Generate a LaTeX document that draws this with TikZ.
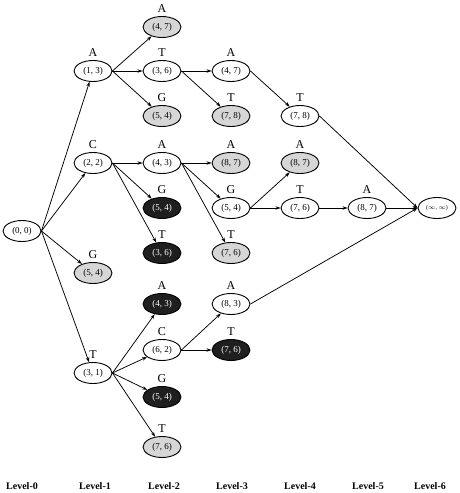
\documentclass[tikz,border=0pt]{standalone}
\usepackage{fontspec}
\setmainfont{Liberation Serif}
\usepackage{tikz}
\usetikzlibrary{arrows.meta, shapes.geometric}

\begin{document}
\begin{tikzpicture}[
	x=1pt, y=-1pt,
	state/.style={ellipse, draw, line width=0.9pt, minimum width=38pt, minimum height=21pt, inner sep=0pt, font=\fontsize{9}{9}\selectfont},
	grey state/.style={state, fill=black!16},
	dead state/.style={state, fill=black!88, text=white},
	sym label/.style={font=\fontsize{12}{12}\selectfont, inner sep=0pt, label distance=3.5pt},
	level label/.style={font=\fontsize{10}{10}\selectfont\bfseries},
	edge/.style={-{Stealth[length=5pt, width=3.4pt]}, line width=0.75pt, black},
	every label/.style={sym label},
	]
	
	\useasboundingbox (0,0) rectangle (459,493);
	
	% Level-0
	\node[state] (root) at (22,231) {(0, 0)};
	
	% Level-1
	\node[state, label=above:A] (a13) at (93,71) {(1, 3)};
	\node[state, label=above:C] (c22) at (93,163) {(2, 2)};
	\node[grey state, label=above:G] (g54) at (93,273) {(5, 4)};
	\node[state, label=above:T] (t31) at (93,373) {(3, 1)};
	
	% Level-2
	\node[grey state, label=above:A] (aa47) at (162,27) {(4, 7)};
	\node[state, label=above:T] (at36) at (162,71) {(3, 6)};
	\node[grey state, label=above:G] (ag54) at (162,116) {(5, 4)};
	\node[state, label=above:A] (ca43) at (162,163) {(4, 3)};
	\node[dead state, label=above:G] (cg54) at (162,208) {(5, 4)};
	\node[dead state, label=above:T] (ct36) at (162,253) {(3, 6)};
	\node[dead state, label=above:A] (ta43) at (162,304) {(4, 3)};
	\node[state, label=above:C] (tc62) at (162,350) {(6, 2)};
	\node[dead state, label=above:G] (tg54) at (162,397) {(5, 4)};
	\node[grey state, label=above:T] (tt76) at (162,447) {(7, 6)};
	
	% Level-3
	\node[state, label=above:A] (ata47) at (231,71) {(4, 7)};
	\node[grey state, label=above:T] (att78) at (231,116) {(7, 8)};
	\node[grey state, label=above:A] (caa87) at (231,163) {(8, 7)};
	\node[state, label=above:G] (cag54) at (231,208) {(5, 4)};
	\node[grey state, label=above:T] (cat76) at (231,253) {(7, 6)};
	\node[state, label=above:A] (tca83) at (231,304) {(8, 3)};
	\node[dead state, label=above:T] (tct76) at (231,350) {(7, 6)};
	
	% Level-4
	\node[state, label=above:T] (atat78) at (300,116) {(7, 8)};
	\node[grey state, label=above:A] (caga87) at (300,163) {(8, 7)};
	\node[state, label=above:T] (cagt76) at (300,208) {(7, 6)};
	
	% Level-5
	\node[state, label=above:A] (cagta87) at (367,208) {(8, 7)};
	
	% Level-6
	\node[state, font=\fontsize{6}{6}\selectfont] (goal) at (437,208) {($\infty$, $\infty$)};
	
	% edges
	\foreach \to in {a13, c22, g54, t31}
		\draw[edge] (root.east) -- (\to);
	\foreach \to in {aa47, at36, ag54}
		\draw[edge] (a13.east) -- (\to);
	\foreach \to in {ca43, cg54, ct36}
		\draw[edge] (c22.east) -- (\to);
	\foreach \to in {ta43, tc62, tg54, tt76}
		\draw[edge] (t31.east) -- (\to);
	\foreach \to in {ata47, att78}
		\draw[edge] (at36.east) -- (\to);
	\foreach \to in {caa87, cag54, cat76}
		\draw[edge] (ca43.east) -- (\to);
	\foreach \to in {tca83, tct76}
		\draw[edge] (tc62.east) -- (\to);
	\draw[edge] (ata47.east) -- (atat78);
	\foreach \to in {caga87, cagt76}
		\draw[edge] (cag54.east) -- (\to);
	\draw[edge] (cagt76.east) -- (cagta87);
	
	% into the goal
	\foreach \from in {atat78, cagta87, tca83}
		\draw[edge] (\from.east) -- (goal.west);
	
	% Level labels
	\foreach \lv/\x in {0/22, 1/95, 2/164, 3/232, 4/300, 5/368, 6/430}
		\node[level label] (lv\lv) at (\x,486) {Level-\lv};
	
\end{tikzpicture}
\end{document}
